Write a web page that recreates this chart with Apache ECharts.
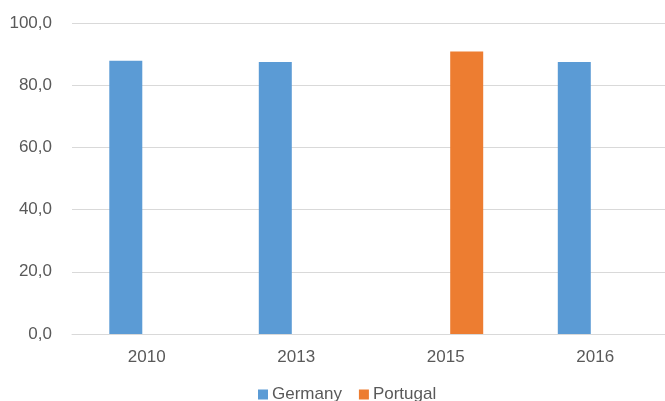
<!DOCTYPE html>
<html>
<head>
<meta charset="utf-8">
<style>
  html, body { margin: 0; padding: 0; background: #ffffff; overflow: hidden; }
  /* plot area runs a few pixels past the right edge of the window */
  #chart { width: 670px; height: 401px; }
</style>
<script src="https://cdn.jsdelivr.net/npm/echarts@6/dist/echarts.min.js"></script>
</head>
<body>
<div id="chart"></div>
<script>
// Survey years shown on the category axis
const years = ['2010', '2013', '2015', '2016'];
// Values per country (null where the country has no entry that year)
const germany = [87.9, 87.5, null, 87.5];
const portugal = [null, null, 90.8, null];
// Value axis range
const yMin = 0;
const yMax = 100;
const yStep = 20;

const FONT = '"Liberation Sans", Arial, sans-serif';
const TEXT = '#595959';
const GRID = '#d9d9d9';

const chart = echarts.init(document.getElementById('chart'), null, { renderer: 'canvas' });

chart.setOption({
  animation: false,
  backgroundColor: '#ffffff',
  textStyle: { fontFamily: FONT },
  grid: { left: 72, right: 0, top: 23, bottom: 67 },
  legend: {
    data: ['Germany', 'Portugal'],
    left: 253,
    top: 381,
    icon: 'rect',
    itemWidth: 10,
    itemHeight: 10,
    itemGap: 17,
    textStyle: { color: TEXT, fontSize: 17, fontFamily: FONT, padding: [0, 0, 0, -1] }
  },
  xAxis: {
    type: 'category',
    data: years,
    axisLine: { show: true, lineStyle: { color: GRID, width: 1 } },
    axisTick: { show: false },
    axisLabel: { color: TEXT, fontSize: 17, fontFamily: FONT, margin: 15 }
  },
  yAxis: {
    type: 'value',
    min: yMin,
    max: yMax,
    interval: yStep,
    axisLine: { show: false },
    axisTick: { show: false },
    splitLine: { lineStyle: { color: GRID, width: 1 } },
    axisLabel: {
      color: TEXT,
      fontSize: 17,
      fontFamily: FONT,
      margin: 20,
      formatter: v => v.toFixed(1).replace('.', ',')
    }
  },
  series: [
    {
      name: 'Germany',
      type: 'bar',
      data: germany,
      barWidth: 33,
      barGap: '27%',
      itemStyle: { color: '#5B9BD5' }
    },
    {
      name: 'Portugal',
      type: 'bar',
      data: portugal,
      barWidth: 33,
      itemStyle: { color: '#ED7D31' }
    }
  ]
});
</script>
</body>
</html>
